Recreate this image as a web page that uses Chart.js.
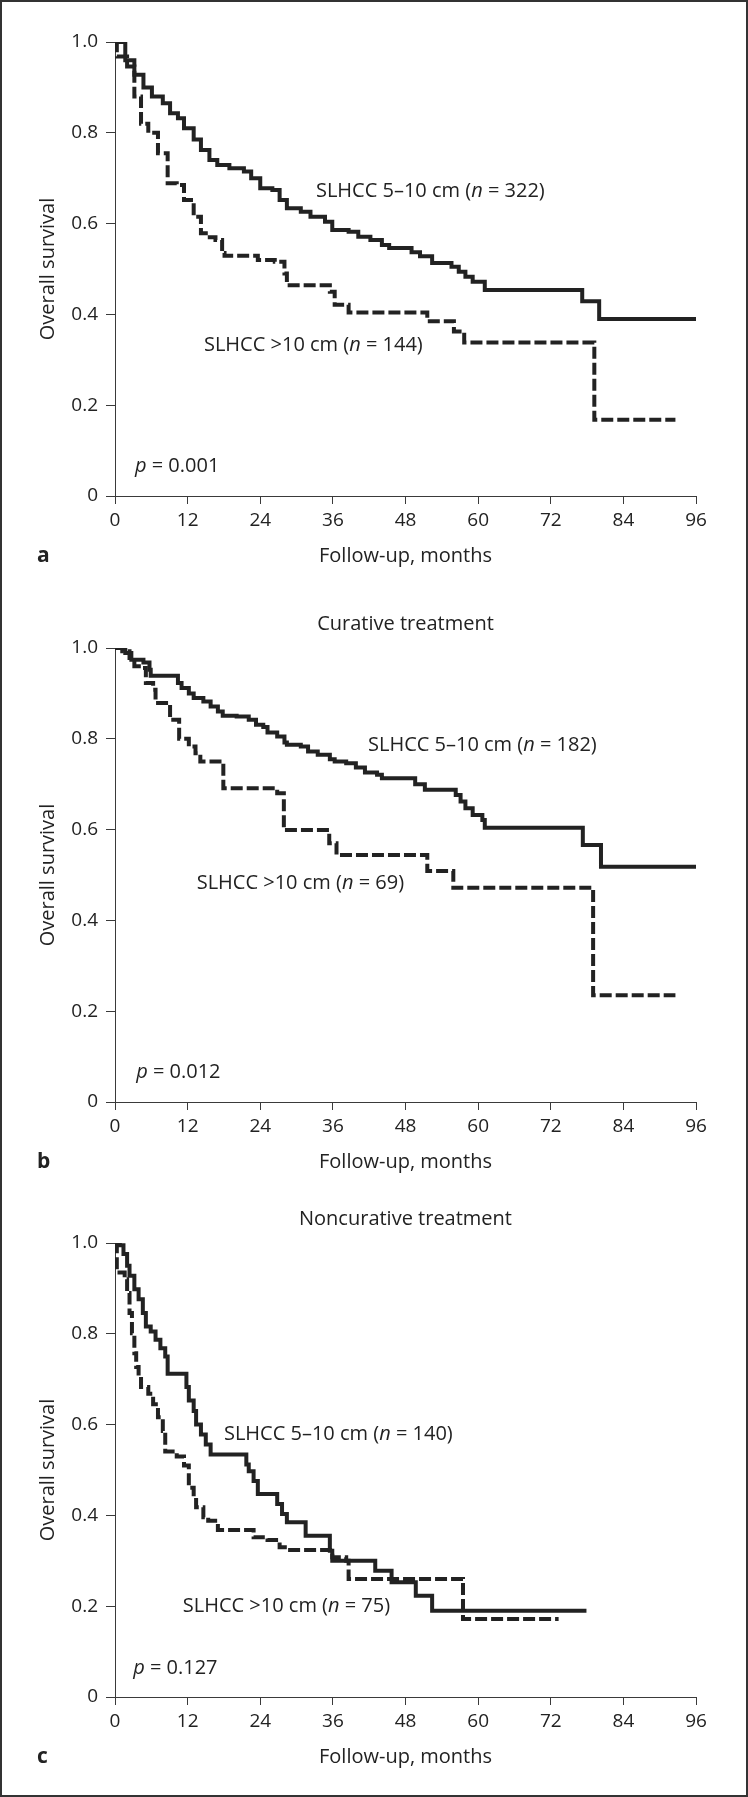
<!DOCTYPE html>
<html>
<head>
<meta charset="utf-8">
<title>Overall survival by tumour size</title>
<script src="https://cdn.jsdelivr.net/npm/chart.js@4.4.1/dist/chart.umd.min.js"></script>
<style>
  html, body { margin: 0; padding: 0; background: #fff; }
  body { position: relative; width: 748px; height: 1797px; overflow: hidden; }
  canvas { position: absolute; left: 0; }
  #frame { position: absolute; left: 0; top: 0; width: 748px; height: 1797px; box-sizing: border-box; border: 2px solid #333; pointer-events: none; }
</style>
</head>
<body>
<canvas id="chart-a" width="748" height="600" style="top:0"></canvas>
<canvas id="chart-b" width="748" height="600" style="top:606px"></canvas>
<canvas id="chart-c" width="748" height="600" style="top:1201px"></canvas>
<div id="frame"></div>
<script>
// Axis ticks
const monthTicks = [0, 12, 24, 36, 48, 60, 72, 84, 96];
const survivalTicks = [0, 0.2, 0.4, 0.6, 0.8, 1.0];

// Panel a - all patients
const monthsA_small = [0, 1.7, 3.2, 4.7, 6.1, 7.9, 9.1, 10.4, 11.4, 13.0, 14.2, 15.6, 16.9, 18.9, 21.3, 22.5, 24.0, 26.0, 27.2, 28.4, 30.7, 32.3, 34.7, 35.9, 38.6, 40.2, 42.2, 44.1, 45.3, 49.0, 50.4, 52.4, 55.6, 56.8, 57.9, 59.1, 61.1, 77.2, 80.0, 96];
const survA_small = [1.0, 0.96, 0.928, 0.90, 0.88, 0.865, 0.843, 0.832, 0.81, 0.785, 0.762, 0.74, 0.729, 0.722, 0.715, 0.70, 0.678, 0.674, 0.652, 0.634, 0.626, 0.615, 0.604, 0.586, 0.582, 0.571, 0.564, 0.553, 0.546, 0.537, 0.528, 0.513, 0.505, 0.494, 0.483, 0.472, 0.454, 0.429, 0.39, 0.39];
const monthsA_large = [0, 0.3, 2.0, 3.2, 4.3, 5.5, 7.1, 8.7, 10.2, 11.4, 13.0, 14.2, 15.0, 16.6, 17.7, 18.1, 23.6, 26.4, 28.0, 28.4, 35.5, 36.3, 38.6, 51.6, 56.0, 57.7, 79.2, 92.6];
const survA_large = [1.0, 0.968, 0.946, 0.88, 0.82, 0.80, 0.755, 0.689, 0.685, 0.652, 0.615, 0.579, 0.57, 0.564, 0.535, 0.529, 0.52, 0.516, 0.49, 0.464, 0.45, 0.421, 0.404, 0.385, 0.3625, 0.338, 0.168, 0.168];

// Panel b - curative treatment
const monthsB_small = [0, 1.7, 2.7, 4.7, 5.7, 5.9, 10.4, 11.0, 12.2, 13.0, 14.6, 15.8, 17.0, 17.8, 20.1, 22.1, 23.3, 24.5, 25.2, 26.8, 28.0, 28.4, 30.7, 31.9, 33.5, 35.5, 36.3, 38.2, 39.8, 41.3, 43.3, 44.1, 49.6, 51.2, 56.3, 57.1, 57.9, 59.1, 60.7, 61.1, 77.3, 80.3, 96];
const survB_small = [1.0, 0.989, 0.974, 0.968, 0.952, 0.939, 0.923, 0.912, 0.90, 0.89, 0.882, 0.871, 0.86, 0.851, 0.849, 0.842, 0.831, 0.826, 0.814, 0.805, 0.792, 0.787, 0.783, 0.772, 0.765, 0.755, 0.75, 0.746, 0.737, 0.726, 0.721, 0.713, 0.70, 0.688, 0.676, 0.662, 0.647, 0.632, 0.621, 0.604, 0.566, 0.518, 0.518];
const monthsB_large = [0, 1.2, 2.4, 3.2, 4.3, 5.1, 6.3, 6.7, 9.1, 10.6, 12.2, 13.3, 14.1, 17.9, 26.8, 27.9, 35.4, 36.6, 51.6, 55.9, 79.0, 92.6];
const survB_large = [1.0, 0.993, 0.978, 0.96, 0.956, 0.923, 0.908, 0.879, 0.842, 0.80, 0.783, 0.768, 0.75, 0.691, 0.68, 0.599, 0.57, 0.544, 0.509, 0.472, 0.235, 0.235];

// Panel c - noncurative treatment
const monthsC_small = [0, 0.8, 1.4, 2.0, 2.4, 3.2, 3.9, 4.6, 5.1, 5.9, 6.7, 7.5, 8.3, 8.7, 11.8, 12.2, 13.0, 13.4, 14.2, 15.0, 15.8, 21.7, 22.1, 22.9, 23.6, 26.8, 27.6, 28.4, 31.5, 35.5, 35.9, 43.0, 45.7, 49.7, 52.4, 77.9];
const survC_small = [1.0, 0.995, 0.976, 0.95, 0.928, 0.898, 0.876, 0.846, 0.816, 0.805, 0.787, 0.768, 0.75, 0.712, 0.683, 0.653, 0.63, 0.60, 0.578, 0.556, 0.534, 0.512, 0.497, 0.476, 0.447, 0.425, 0.403, 0.385, 0.355, 0.322, 0.30, 0.278, 0.253, 0.223, 0.19, 0.19];
const monthsC_large = [0, 0.3, 1.6, 2.0, 2.4, 2.8, 3.2, 3.5, 3.9, 4.3, 5.5, 6.3, 7.1, 7.9, 8.3, 10.2, 11.4, 12.2, 13.0, 13.4, 14.6, 15.4, 17.0, 22.9, 25.2, 27.2, 28.4, 35.9, 38.2, 38.6, 57.5, 73.3];
const survC_large = [1.0, 0.935, 0.92, 0.89, 0.846, 0.801, 0.757, 0.727, 0.705, 0.683, 0.668, 0.645, 0.616, 0.586, 0.541, 0.53, 0.51, 0.461, 0.44, 0.418, 0.396, 0.388, 0.368, 0.352, 0.346, 0.33, 0.324, 0.308, 0.30, 0.26, 0.172, 0.172];

const FONT = '"Open Sans", "DejaVu Sans", sans-serif';
const INK = '#222';
const AXIS = '#3a3a3a';

function toPoints(months, surv) {
    return months.map((m, i) => ({ x: m, y: surv[i] }));
}

// draws text pieces one after another, some in italic
function drawRich(ctx, parts, x, y, size) {
    let cx = x;
    parts.forEach(([text, italic]) => {
        ctx.font = (italic ? 'italic ' : '') + size + 'px ' + FONT;
        ctx.fillText(text, cx, y);
        cx += ctx.measureText(text).width;
    });
}

// labels, titles and panel letter drawn on top of the chart
function notesPlugin(panel) {
    return {
        id: 'notes',
        afterDraw(chart) {
            const ctx = chart.ctx;
            const xs = chart.scales.x;
            const ys = chart.scales.y;
            const area = chart.chartArea;
            ctx.save();
            ctx.fillStyle = INK;
            ctx.textBaseline = 'middle';
            ctx.textAlign = 'left';
            panel.notes.forEach(n => {
                drawRich(ctx, n.parts, xs.getPixelForValue(n.x), ys.getPixelForValue(n.y), 20);
            });
            if (panel.title) {
                ctx.font = '20px ' + FONT;
                ctx.textAlign = 'center';
                ctx.fillText(panel.title, (area.left + area.right) / 2, area.top - 24);
            }
            ctx.font = 'bold 21px ' + FONT;
            ctx.textAlign = 'left';
            ctx.fillText(panel.letter, 37, xs.bottom - 44);
            ctx.restore();
        }
    };
}

function makePanel(id, panel) {
    const ctx = document.getElementById(id).getContext('2d');
    return new Chart(ctx, {
        type: 'line',
        data: {
            datasets: [
                {
                    label: 'SLHCC 5–10 cm',
                    data: toPoints(panel.smallMonths, panel.smallSurv),
                    borderColor: INK,
                    borderWidth: 4,
                    stepped: true,
                    pointRadius: 0,
                    fill: false
                },
                {
                    label: 'SLHCC >10 cm',
                    data: toPoints(panel.largeMonths, panel.largeSurv),
                    borderColor: INK,
                    borderWidth: 4,
                    borderDash: [12, 4],
                    stepped: true,
                    pointRadius: 0,
                    fill: false
                }
            ]
        },
        options: {
            responsive: false,
            animation: false,
            devicePixelRatio: 1,
            layout: { padding: { left: 0, right: 52, top: 42, bottom: 0 } },
            plugins: {
                legend: { display: false },
                tooltip: { enabled: false }
            },
            scales: {
                x: {
                    type: 'linear',
                    min: monthTicks[0],
                    max: monthTicks[monthTicks.length - 1],
                    afterFit: s => { s.height = 104; },
                    ticks: {
                        stepSize: monthTicks[1] - monthTicks[0],
                        autoSkip: false,
                        maxRotation: 0,
                        padding: 5,
                        color: INK,
                        font: { family: FONT, size: 19 }
                    },
                    grid: { drawOnChartArea: false, drawTicks: true, tickLength: 8, color: AXIS },
                    border: { display: true, color: AXIS, width: 1 },
                    title: {
                        display: true,
                        text: 'Follow-up, months',
                        color: INK,
                        font: { family: FONT, size: 20 },
                        padding: { top: 0, bottom: 32 }
                    }
                },
                y: {
                    min: survivalTicks[0],
                    max: survivalTicks[survivalTicks.length - 1],
                    afterFit: s => { s.width = 115; },
                    ticks: {
                        stepSize: survivalTicks[1] - survivalTicks[0],
                        padding: 8,
                        color: INK,
                        font: { family: FONT, size: 19 },
                        callback: v => (v === 0 ? '0' : v.toFixed(1))
                    },
                    grid: { drawOnChartArea: false, drawTicks: true, tickLength: 9, color: AXIS },
                    border: { display: true, color: AXIS, width: 1 },
                    title: {
                        display: true,
                        text: 'Overall survival',
                        color: INK,
                        font: { family: FONT, size: 20 },
                        padding: { top: 36, bottom: 0 }
                    }
                }
            }
        },
        plugins: [notesPlugin(panel)]
    });
}

makePanel('chart-a', {
    letter: 'a',
    title: null,
    smallMonths: monthsA_small, smallSurv: survA_small,
    largeMonths: monthsA_large, largeSurv: survA_large,
    notes: [
        { x: 33.2, y: 0.671, parts: [['SLHCC 5–10 cm (', false], ['n', true], [' = 322)', false]] },
        { x: 14.7, y: 0.333, parts: [['SLHCC >10 cm (', false], ['n', true], [' = 144)', false]] },
        { x: 3.3, y: 0.065, parts: [['p', true], [' = 0.001', false]] }
    ]
});

makePanel('chart-b', {
    letter: 'b',
    title: 'Curative treatment',
    smallMonths: monthsB_small, smallSurv: survB_small,
    largeMonths: monthsB_large, largeSurv: survB_large,
    notes: [
        { x: 41.8, y: 0.786, parts: [['SLHCC 5–10 cm (', false], ['n', true], [' = 182)', false]] },
        { x: 13.5, y: 0.482, parts: [['SLHCC >10 cm (', false], ['n', true], [' = 69)', false]] },
        { x: 3.5, y: 0.065, parts: [['p', true], [' = 0.012', false]] }
    ]
});

makePanel('chart-c', {
    letter: 'c',
    title: 'Noncurative treatment',
    smallMonths: monthsC_small, smallSurv: survC_small,
    largeMonths: monthsC_large, largeSurv: survC_large,
    notes: [
        { x: 18.0, y: 0.578, parts: [['SLHCC 5–10 cm (', false], ['n', true], [' = 140)', false]] },
        { x: 11.2, y: 0.199, parts: [['SLHCC >10 cm (', false], ['n', true], [' = 75)', false]] },
        { x: 3.0, y: 0.063, parts: [['p', true], [' = 0.127', false]] }
    ]
});
</script>
</body>
</html>
